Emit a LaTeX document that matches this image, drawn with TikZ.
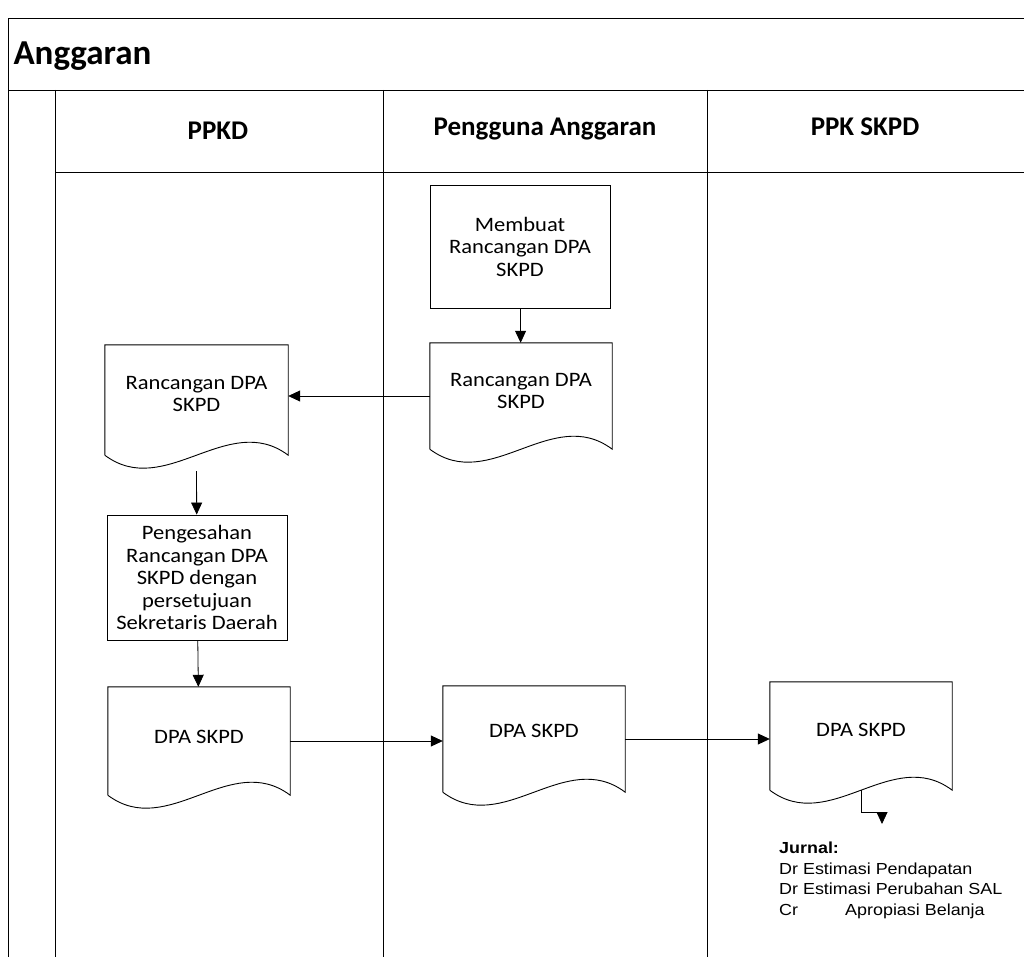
\documentclass[tikz,border=0pt]{standalone}
\usepackage{fontspec}
\setmainfont{Carlito}[FakeStretch=1.1]
\newfontfamily\headfont{Carlito}
\newfontfamily\arialfont{Liberation Sans}[FakeStretch=1.12]
\usetikzlibrary{calc, arrows.meta}

\tikzset{
  lane/.style={black, line width=0.9pt},
  procbox/.style={draw, line width=0.9pt, align=center, inner sep=2pt,
    font=\fontsize{20.5}{22.5}\selectfont},
  docbox/.style={align=center, inner sep=0pt,
    font=\fontsize{20.5}{22.5}\selectfont},
  flow/.style={-{Triangle[length=12pt, width=11pt]}, line width=0.8pt},
  lanehead/.style={font=\headfont\bfseries\fontsize{27}{29}\selectfont}
}

% document outline with a wavy bottom
\newcommand{\docoutline}[1]{%
  \draw[line width=0.9pt] (#1.south west) -- (#1.north west) -- (#1.north east) -- (#1.south east)
    .. controls +(-60,-45) and +(60,45) .. (#1.south west);}

\begin{document}
\begin{tikzpicture}[x=1pt, y=-1pt]
  \useasboundingbox (0,0) rectangle (1024,957);

  % pool and lanes
  \draw [lane] (1024,18) -- (8,18) -- (8,957);
  \draw [lane] (8,90) -- (1024,90);
  \draw [lane] (55,90) -- (55,957);
  \draw [lane] (55,172) -- (1024,172);
  \foreach \x in {383, 707}
    \draw [lane] (\x,90) -- (\x,957);

  \node [anchor=west, font=\headfont\bfseries\fontsize{35}{37}\selectfont] (pool) at (10,56) {Anggaran};
  \node [lanehead] (ppkd) at (218,131) {PPKD};
  \node [lanehead] (pa) at (545,129) {Pengguna Anggaran};
  \node [lanehead] (ppk) at (865,127) {PPK SKPD};

  % steps
  \node [procbox, minimum width=180, minimum height=123] (membuat) at (520,246.5)
    {Membuat\\Rancangan DPA\\SKPD};
  \node [docbox, minimum width=182, minimum height=106] (rdb) at (521,396)
    {Rancangan DPA\\SKPD\\[-12pt]};
  \node [docbox, minimum width=183, minimum height=110] (rda) at (196.5,400)
    {Rancangan DPA\\SKPD\\[-10pt]};
  \node [procbox, minimum width=180, minimum height=125] (sah) at (197,577.5)
    {Pengesahan\\Rancangan DPA\\SKPD dengan\\persetujuan\\Sekretaris Daerah};
  \node [docbox, minimum width=182, minimum height=108] (dpa) at (199,741)
    {DPA SKPD\\[-14pt]};
  \node [docbox, minimum width=182, minimum height=106] (dpb) at (534,739)
    {DPA SKPD\\[-6pt]};
  \node [docbox, minimum width=182, minimum height=108] (dpc) at (861,736)
    {DPA SKPD\\[-10pt]};

  \foreach \n in {rdb, rda, dpa, dpb, dpc} {\docoutline{\n}}

  \node [anchor=north west, align=left, inner sep=0pt,
    font=\arialfont\fontsize{16}{20.5}\selectfont] (jurnal) at (779,842)
    {\textbf{Jurnal:}\\Dr Estimasi Pendapatan\\Dr Estimasi Perubahan SAL\\
     \makebox[66pt][l]{Cr}Apropiasi Belanja};
  \coordinate (jt) at (882,812);

  % flows
  \draw [flow] (membuat) -- (rdb);
  \draw [flow] (rdb.west) -- (rdb.west -| rda.east);
  \draw [flow] ([yshift=-16pt]rda.south) -- (sah);
  \draw [flow] (sah) -- (dpa);
  \draw [flow] (dpa.east) -- (dpa.east -| dpb.west);
  \draw [flow] (dpb.east) -- (dpb.east -| dpc.west);
  \draw [flow] (dpc.south) |- (jt) -- ++(0,12);
\end{tikzpicture}
\end{document}
